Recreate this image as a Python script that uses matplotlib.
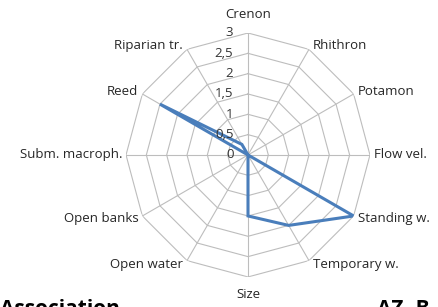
import numpy as np
import matplotlib
matplotlib.use("Agg")
import matplotlib.pyplot as plt

categories = ["Crenon", "Rhithron", "Potamon", "Flow vel.", "Standing w.",
              "Temporary w.", "Size", "Open water", "Open banks",
              "Subm. macroph.", "Reed", "Riparian tr."]
values = [0, 0, 0, 0, 3, 2, 1.5, 0, 0, 0, 2.5, 0.3]
ticks = [0, 0.5, 1, 1.5, 2, 2.5, 3]
tick_labels = ["0", "0,5", "1", "1,5", "2", "2,5", "3"]

plt.rcParams['font.family'] = ['Open Sans', 'DejaVu Sans']

fig = plt.figure(figsize=(4.38, 3.07), dpi=100)
ax = fig.add_axes([0.2877, 0.0977, 0.557, 0.795], projection='polar')
ax.set_theta_zero_location('N')
ax.set_theta_direction(-1)
ax.set_ylim(0, 3)
ax.grid(False)
ax.spines['polar'].set_visible(False)
ax.set_xticks([])
ax.set_yticks([])
ax.patch.set_alpha(0)

n = len(categories)
angles = np.arange(n) * 2 * np.pi / n
closed = np.append(angles, angles[0])

grid_c = '#BDBDBD'
for t in ticks[1:]:
    ax.plot(closed, [t] * (n + 1), color=grid_c, lw=0.8, zorder=1)
for a in angles:
    ax.plot([a, a], [0, 3], color=grid_c, lw=0.8, zorder=1)

vals = np.append(values, values[0])
ax.plot(closed, vals, color='#4A7EBB', lw=2.2, zorder=3, solid_joinstyle='miter')

for t, lab in zip(ticks, tick_labels):
    ax.annotate(lab, xy=(0, t), xytext=(-10.5, 0), textcoords='offset points',
                ha='right', va='center', fontsize=9.5, color='#333333')

k = 0.72  # px -> pt
for a, lab in zip(angles, categories):
    s, c = np.sin(a), np.cos(a)
    if abs(s) < 0.1:
        ha = 'center'
        dx, dy = 0, 18 * np.sign(c)
    else:
        ha = 'left' if s > 0 else 'right'
        dx, dy = 4 * np.sign(s), 5 * c
    ax.annotate(lab, xy=(a, 3), xytext=(dx * k, dy * k), textcoords='offset points',
                ha=ha, va='center', fontsize=9.5, color='#262626')

fig.text(0.0, 1 - 299 / 307, "Association", fontsize=15, fontweight='bold',
         ha='left', va='top', color='black')
fig.text(377 / 438, 1 - 299 / 307, "AZ- B", fontsize=15, fontweight='bold',
         ha='left', va='top', color='black')

fig.savefig("out.png", dpi=100)
